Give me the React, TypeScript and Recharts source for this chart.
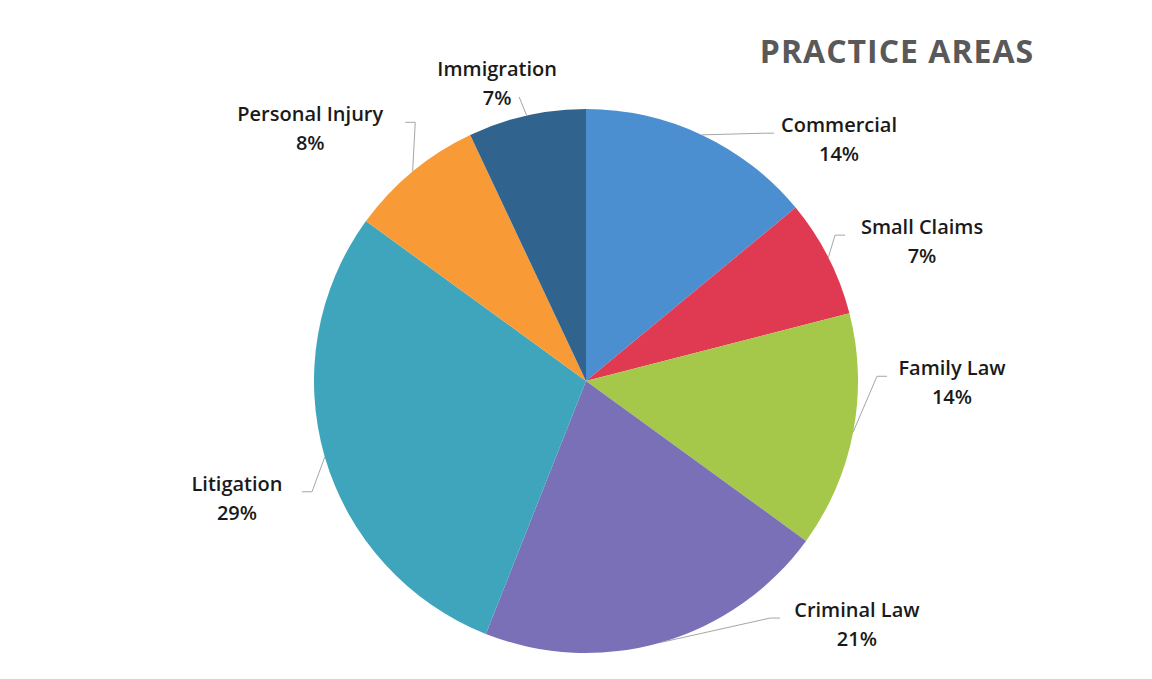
import React from 'react';
import { PieChart, Pie, Cell } from 'recharts';

const categories = ['Commercial', 'Small Claims', 'Family Law', 'Criminal Law', 'Litigation', 'Personal Injury', 'Immigration'];
const shares = [14, 7, 14, 21, 29, 8, 7];
const COLORS = ['#4b8fd0', '#e03a52', '#a5c84b', '#7a70b8', '#3ea5bc', '#f89b36', '#30648f'];

// where each label sits: clockwise angle from 12 o'clock and distance from the centre
const labelAngles = [46.3, 67.4, 90.2, 131.9, 251.5, 312.5, 343.4];
const labelDistances = [350, 364, 366, 364, 368, 374, 311];

const data = categories.map((name, i) => ({ name, value: shares[i] }));

const RAD = Math.PI / 180;
const FONT = '"Open Sans", sans-serif';
const LABEL_SIZE = 20;

const renderLabel = (props: any) => {
  const { cx, cy, midAngle, outerRadius, index, name, value } = props;
  const a = labelAngles[index] * RAD;
  const d = labelDistances[index];
  const lx = cx + d * Math.sin(a);
  const ly = cy - d * Math.cos(a);

  const ex = cx + outerRadius * Math.cos(-midAngle * RAD);
  const ey = cy + outerRadius * Math.sin(-midAngle * RAD);

  const halfW = name.length * LABEL_SIZE * 0.3;
  let points: string;
  if (Math.abs(lx - cx) < 120) {
    // label above the pie: line drops from under the text
    points = `${lx + 22},${ly + 14} ${ex},${ey}`;
  } else {
    const right = lx > cx;
    const sx = right ? lx - halfW - 5 : lx + halfW + 5;
    const sy = ly - 6;
    const kx = right ? sx - 10 : sx + 10;
    points = `${sx},${sy} ${kx},${sy} ${ex},${ey}`;
  }

  return (
    <g>
      <polyline points={points} fill="none" stroke="#a6a6a6" strokeWidth={1} />
      <text
        x={lx}
        y={ly - 7}
        textAnchor="middle"
        fill="#1a1a1a"
        fontFamily={FONT}
        fontWeight={600}
        fontSize={LABEL_SIZE}
      >
        {name}
      </text>
      <text
        x={lx}
        y={ly + 22}
        textAnchor="middle"
        fill="#1a1a1a"
        fontFamily={FONT}
        fontWeight={600}
        fontSize={LABEL_SIZE}
      >
        {`${value}%`}
      </text>
    </g>
  );
};

const App = () => {
  return (
    <div style={{ position: 'absolute', left: 0, top: 0, background: '#ffffff' }}>
      <PieChart width={1152} height={679} margin={{ top: 0, right: 0, bottom: 0, left: 0 }}>
        <text
          x={897}
          y={63}
          textAnchor="middle"
          fill="#595959"
          fontFamily={FONT}
          fontWeight={700}
          fontSize={32}
          letterSpacing={1}
        >
          PRACTICE AREAS
        </text>
        <Pie
          data={data}
          dataKey="value"
          nameKey="name"
          cx={586}
          cy={381}
          outerRadius={272}
          startAngle={90}
          endAngle={-270}
          stroke="none"
          labelLine={false}
          label={renderLabel}
          isAnimationActive={false}
        >
          {data.map((entry, index) => (
            <Cell key={`cell-${index}`} fill={COLORS[index % COLORS.length]} />
          ))}
        </Pie>
      </PieChart>
    </div>
  );
};

export default App;
